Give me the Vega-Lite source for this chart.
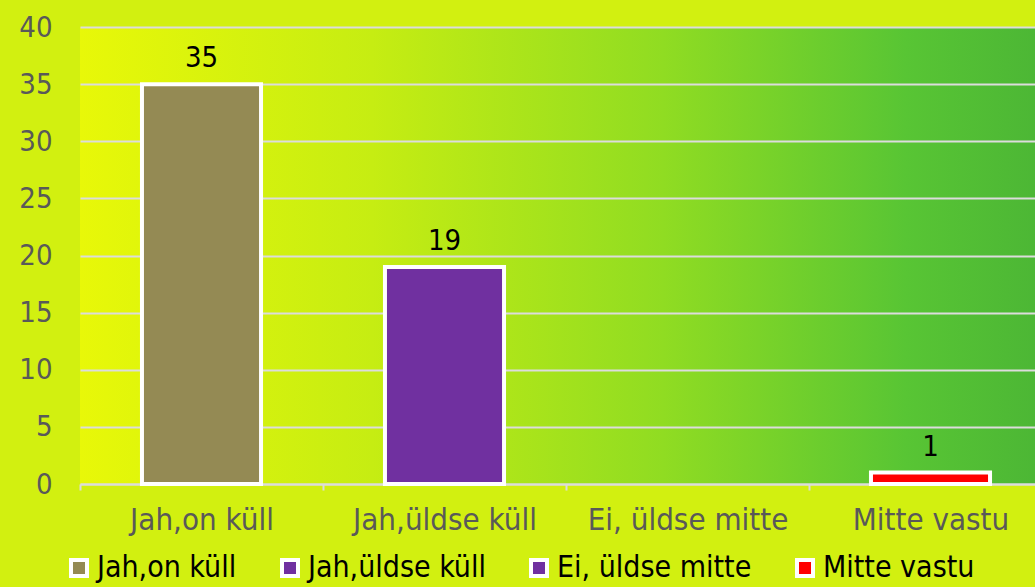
{
  "$schema": "https://vega.github.io/schema/vega-lite/v6.json",
  "width": 972,
  "height": 457,
  "autosize": {"type": "none"},
  "padding": {"left": 80, "top": 27, "right": 0, "bottom": 103},
  "background": "#d2f010",
  "config": {
    "font": "DejaVu Sans Condensed, Liberation Sans, sans-serif",
    "view": {
      "stroke": null,
      "fill": {
        "gradient": "linear",
        "x1": 0, "y1": 0.5, "x2": 1, "y2": 0.5,
        "stops": [
          {"offset": 0, "color": "#e8f808"},
          {"offset": 0.3, "color": "#c6ed12"},
          {"offset": 0.6, "color": "#90dc22"},
          {"offset": 0.85, "color": "#58c534"},
          {"offset": 1, "color": "#4bb535"}
        ]
      }
    }
  },
  "data": {
    "values": [
      {"category": "Jah,on küll", "count": 35},
      {"category": "Jah,üldse küll", "count": 19},
      {"category": "Ei, üldse mitte", "count": null},
      {"category": "Mitte vastu", "count": 1}
    ]
  },
  "layer": [
    {
      "mark": {"type": "bar", "stroke": "white", "strokeWidth": 4, "width": {"band": 0.49}},
      "encoding": {
        "x": {
          "field": "category", "type": "nominal", "sort": null,
          "scale": {
            "domain": ["Jah,on küll", "Jah,üldse küll", "Ei, üldse mitte", "Mitte vastu"],
            "paddingInner": 0, "paddingOuter": 0
          },
          "axis": {
            "title": null, "labelAngle": 0, "labelFontSize": 31, "labelColor": "#595959",
            "domainColor": "#dcdcdc", "domainWidth": 2, "tickColor": "#dcdcdc", "tickWidth": 2,
            "tickSize": 6, "tickBand": "extent", "labelPadding": 15, "grid": false, "labelLimit": 0
          }
        },
        "y": {
          "field": "count", "type": "quantitative",
          "scale": {"domain": [0, 40], "nice": false},
          "axis": {
            "title": null, "values": [0, 5, 10, 15, 20, 25, 30, 35, 40],
            "labelFontSize": 29, "labelColor": "#595959", "labelPadding": 28,
            "domain": false, "ticks": false, "gridColor": "#dcdcdc", "gridWidth": 2
          }
        },
        "color": {
          "field": "category", "type": "nominal", "sort": null,
          "scale": {
            "domain": ["Jah,on küll", "Jah,üldse küll", "Ei, üldse mitte", "Mitte vastu"],
            "range": ["#948A54", "#7030A0", "#7030A0", "#FF0000"]
          },
          "legend": {
            "title": null, "orient": "none", "legendX": -16, "legendY": 526,
            "direction": "horizontal", "symbolType": "square", "symbolSize": 256,
            "symbolStrokeColor": "white", "symbolStrokeWidth": 4, "symbolOpacity": 1,
            "labelFontSize": 30, "labelColor": "black", "labelOffset": 3, "columnPadding": 37,
            "labelLimit": 0
          }
        }
      }
    },
    {
      "transform": [{"filter": "datum.count != null"}],
      "mark": {"type": "text", "dy": -17, "baseline": "alphabetic", "fontSize": 29, "color": "black"},
      "encoding": {
        "x": {"field": "category", "type": "nominal", "sort": null},
        "y": {"field": "count", "type": "quantitative"},
        "text": {"field": "count", "type": "quantitative"}
      }
    }
  ]
}
